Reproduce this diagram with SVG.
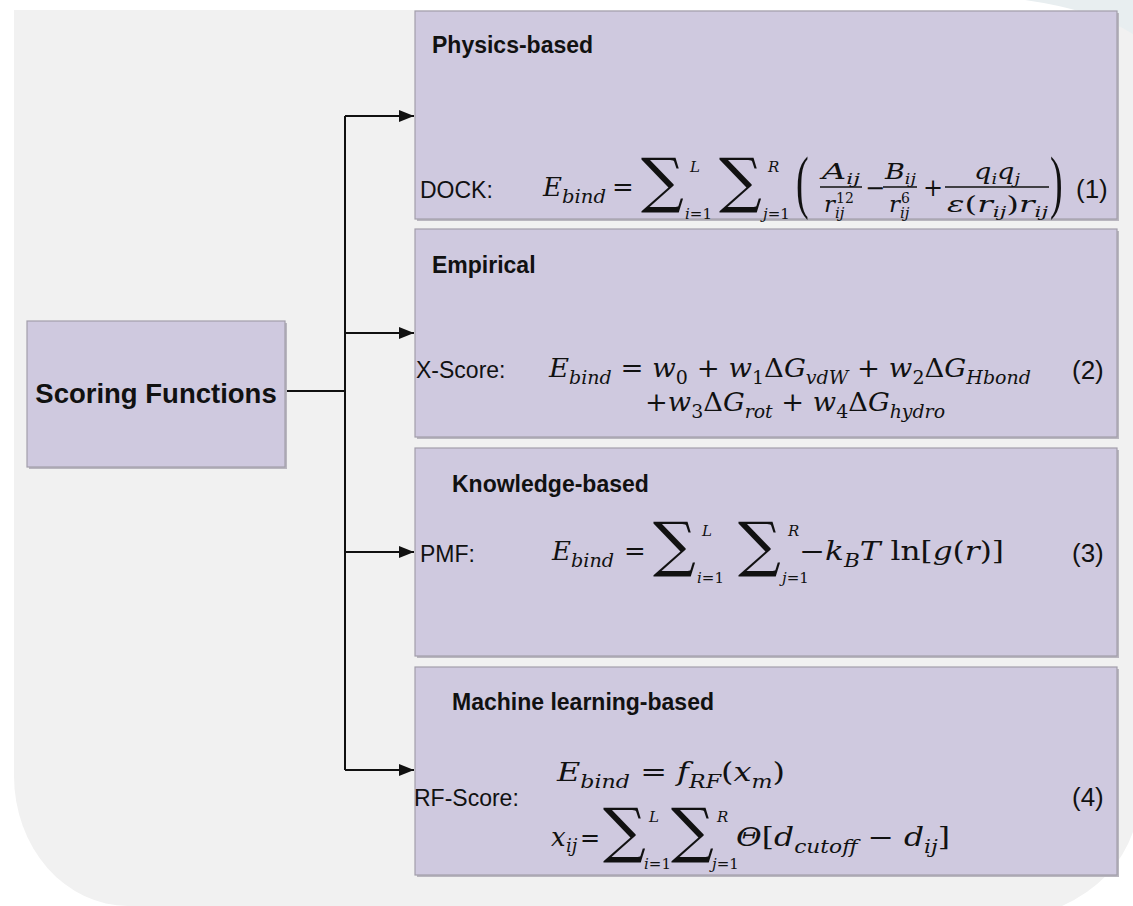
<svg xmlns="http://www.w3.org/2000/svg" width="1133" height="906" viewBox="0 0 1133 906">
<style>
.page{fill:#ffffff}
.bg{fill:#f1f1f1}
.deco{fill:#e8eef0}
.shadow{fill:#b9b6bf}
.box{fill:#cfc9df;stroke:#a29eab;stroke-width:1.2}
.title{font-family:"Liberation Sans",Arial,sans-serif;font-weight:bold;font-size:23px;fill:#111}
.main{font-family:"Liberation Sans",Arial,sans-serif;font-weight:bold;font-size:27.5px;fill:#111}
.lab{font-family:"Liberation Sans",Arial,sans-serif;font-size:23px;fill:#111}
.num{font-family:"Liberation Sans",Arial,sans-serif;font-size:26px;fill:#111}
.m{font-family:"DejaVu Serif","Liberation Serif",serif;font-style:italic;font-size:26px;fill:#111}
.u{font-family:"DejaVu Serif","Liberation Serif",serif;font-style:normal;font-size:26px;fill:#111}
.sb{font-family:"DejaVu Serif","Liberation Serif",serif;font-style:italic;font-size:18px;fill:#111}
.fr{font-family:"DejaVu Serif","Liberation Serif",serif;font-style:italic;font-size:23px;fill:#111}
.fs{font-family:"DejaVu Serif","Liberation Serif",serif;font-style:italic;font-size:15px;fill:#111}
.fsu{font-family:"DejaVu Serif","Liberation Serif",serif;font-style:normal;font-size:14px;fill:#111}
.sig{font-family:"DejaVu Serif","Liberation Serif",serif;font-style:normal;font-size:60px;fill:#111}
.par{font-family:"Liberation Serif","DejaVu Serif",serif;font-style:normal;font-size:38px;fill:#111}
.lim{font-family:"DejaVu Serif","Liberation Serif",serif;font-style:italic;font-size:15px;fill:#111}
.limu{font-style:normal}
.n{font-style:normal}
.bar{stroke:#111;stroke-width:1.3}
.conn{fill:none;stroke:#111;stroke-width:2}
</style>
<defs>
<marker id="arr" markerUnits="userSpaceOnUse" markerWidth="16" markerHeight="14" refX="15" refY="7" orient="auto">
<path d="M0,1 L15,7 L0,13 Z" fill="#111"/>
</marker>
</defs>
<rect class="page" x="0" y="0" width="1133" height="906"/>
<path class="bg" d="M14,10 H1133 V832 Q1115,882 1062,906 H128 A114,130 0 0 1 14,776 Z"/>
<path class="deco" d="M1025,0 H1133 V34 Q1095,10 1025,0 Z"/>

<g id="connectors">
<path class="conn" d="M285,391 H345"/>
<path class="conn" d="M345,116 V770"/>
<path class="conn" d="M345,116 H414" marker-end="url(#arr)"/>
<path class="conn" d="M345,333 H414" marker-end="url(#arr)"/>
<path class="conn" d="M345,552 H414" marker-end="url(#arr)"/>
<path class="conn" d="M345,770 H414" marker-end="url(#arr)"/>
</g>

<g id="scoring-functions">
<rect class="shadow" x="29" y="323" width="258" height="146"/>
<rect class="box" x="27" y="321" width="258" height="146"/>
<text class="main" x="156" y="403" text-anchor="middle">Scoring Functions</text>
</g>

<g id="physics-based">
<rect class="shadow" x="417" y="13" width="702" height="208"/>
<rect class="box" x="415" y="11" width="702" height="208"/>
<text class="title" x="432" y="53">Physics-based</text>
<text class="lab" x="420" y="198">DOCK:</text>
<text class="m" x="543" y="196">E</text>
<text class="sb" x="562" y="203" textLength="44" lengthAdjust="spacingAndGlyphs">bind</text>
<text class="u" x="612" y="196">=</text>
<text class="sig" x="641" y="201">∑</text>
<text class="lim" x="690" y="172">L</text>
<text class="lim" x="685" y="219">i<tspan class="limu">=1</tspan></text>
<text class="sig" x="719" y="201">∑</text>
<text class="lim" x="768" y="172">R</text>
<text class="lim" x="763" y="219">j<tspan class="limu">=1</tspan></text>
<text class="par" transform="translate(796,205) scale(1,1.85)">(</text>
<text class="fr" x="822" y="179" textLength="38" lengthAdjust="spacingAndGlyphs">A<tspan class="fs" dy="5">ij</tspan></text>
<line class="bar" x1="820" y1="187" x2="862" y2="187"/>
<text class="fr" x="824" y="212">r</text>
<text class="fs" x="835" y="218">ij</text>
<text class="fsu" x="836" y="203">12</text>
<text class="u" x="865" y="196" style="font-size:24px">−</text>
<text class="fr" x="885" y="179" textLength="31" lengthAdjust="spacingAndGlyphs">B<tspan class="fs" dy="5">ij</tspan></text>
<line class="bar" x1="883" y1="187" x2="917" y2="187"/>
<text class="fr" x="889" y="212">r</text>
<text class="fs" x="900" y="218">ij</text>
<text class="fsu" x="901" y="203">6</text>
<text class="u" x="923" y="196" style="font-size:24px">+</text>
<text class="fr" x="974" y="179" textLength="46" lengthAdjust="spacingAndGlyphs">q<tspan class="fs" dy="5">i</tspan><tspan dy="-5">q</tspan><tspan class="fs" dy="5">j</tspan></text>
<line class="bar" x1="945" y1="187" x2="1049" y2="187"/>
<text class="fr" x="947" y="212" textLength="101" lengthAdjust="spacingAndGlyphs">ε<tspan class="n">(</tspan>r<tspan class="fs" dy="5">ij</tspan><tspan class="n" dy="-5">)</tspan>r<tspan class="fs" dy="5">ij</tspan></text>
<text class="par" transform="translate(1050,205) scale(1,1.85)">)</text>
<text class="num" x="1076" y="198">(1)</text>
</g>

<g id="empirical">
<rect class="shadow" x="417" y="231" width="702" height="208"/>
<rect class="box" x="415" y="229" width="702" height="208"/>
<text class="title" x="432" y="273">Empirical</text>
<text class="lab" x="416" y="378">X-Score:</text>
<text class="m" x="549" y="377" textLength="482" lengthAdjust="spacingAndGlyphs">E<tspan class="sb" dy="7">bind</tspan><tspan class="n" dy="-7"> = </tspan>w<tspan class="sb n" dy="7">0</tspan><tspan class="n" dy="-7"> + </tspan>w<tspan class="sb n" dy="7">1</tspan><tspan class="n" dy="-7">Δ</tspan>G<tspan class="sb" dy="7">vdW</tspan><tspan class="n" dy="-7"> + </tspan>w<tspan class="sb n" dy="7">2</tspan><tspan class="n" dy="-7">Δ</tspan>G<tspan class="sb" dy="7">Hbond</tspan></text>
<text class="m" x="645" y="411" textLength="300" lengthAdjust="spacingAndGlyphs"><tspan class="n">+</tspan>w<tspan class="sb n" dy="7">3</tspan><tspan class="n" dy="-7">Δ</tspan>G<tspan class="sb" dy="7">rot</tspan><tspan class="n" dy="-7"> + </tspan>w<tspan class="sb n" dy="7">4</tspan><tspan class="n" dy="-7">Δ</tspan>G<tspan class="sb" dy="7">hydro</tspan></text>
<text class="num" x="1072" y="379">(2)</text>
</g>

<g id="knowledge-based">
<rect class="shadow" x="417" y="450" width="702" height="208"/>
<rect class="box" x="415" y="448" width="702" height="208"/>
<text class="title" x="452" y="492">Knowledge-based</text>
<text class="lab" x="420" y="562">PMF:</text>
<text class="m" x="552" y="560">E</text>
<text class="sb" x="571" y="567" textLength="43" lengthAdjust="spacingAndGlyphs">bind</text>
<text class="u" x="624" y="560">=</text>
<text class="sig" x="653" y="565">∑</text>
<text class="lim" x="702" y="536">L</text>
<text class="lim" x="697" y="583">i<tspan class="limu">=1</tspan></text>
<text class="sig" x="738" y="565">∑</text>
<text class="lim" x="788" y="536">R</text>
<text class="lim" x="782" y="583">j<tspan class="limu">=1</tspan></text>
<text class="m" x="799" y="560" textLength="205" lengthAdjust="spacingAndGlyphs"><tspan class="n">−</tspan>k<tspan class="sb" dy="7">B</tspan><tspan dy="-7">T</tspan><tspan class="n"> ln[</tspan>g<tspan class="n">(</tspan>r<tspan class="n">)]</tspan></text>
<text class="num" x="1072" y="562">(3)</text>
</g>

<g id="machine-learning-based">
<rect class="shadow" x="417" y="669" width="702" height="208"/>
<rect class="box" x="415" y="667" width="702" height="208"/>
<text class="title" x="452" y="710">Machine learning-based</text>
<text class="lab" x="414" y="806">RF-Score:</text>
<text class="m" x="557" y="781" textLength="228" lengthAdjust="spacingAndGlyphs">E<tspan class="sb" dy="7">bind</tspan><tspan class="n" dy="-7"> = </tspan>f<tspan class="sb" dy="7">RF</tspan><tspan class="n" dy="-7">(</tspan>x<tspan class="sb" dy="7">m</tspan><tspan class="n" dy="-7">)</tspan></text>
<text class="m" x="551" y="846">x</text>
<text class="sb" x="566" y="852">ij</text>
<text class="u" x="580" y="846" style="font-size:24px">=</text>
<text class="sig" x="603" y="851">∑</text>
<text class="lim" x="649" y="822">L</text>
<text class="lim" x="644" y="869">i<tspan class="limu">=1</tspan></text>
<text class="sig" x="671" y="851">∑</text>
<text class="lim" x="717" y="822">R</text>
<text class="lim" x="712" y="869">j<tspan class="limu">=1</tspan></text>
<text class="m" x="736" y="846" textLength="214" lengthAdjust="spacingAndGlyphs"><tspan>Θ</tspan><tspan class="n">[</tspan>d<tspan class="sb" dy="7">cutoff</tspan><tspan class="n" dy="-7"> − </tspan>d<tspan class="sb" dy="7">ij</tspan><tspan class="n" dy="-7">]</tspan></text>
<text class="num" x="1072" y="806">(4)</text>
</g>
</svg>
